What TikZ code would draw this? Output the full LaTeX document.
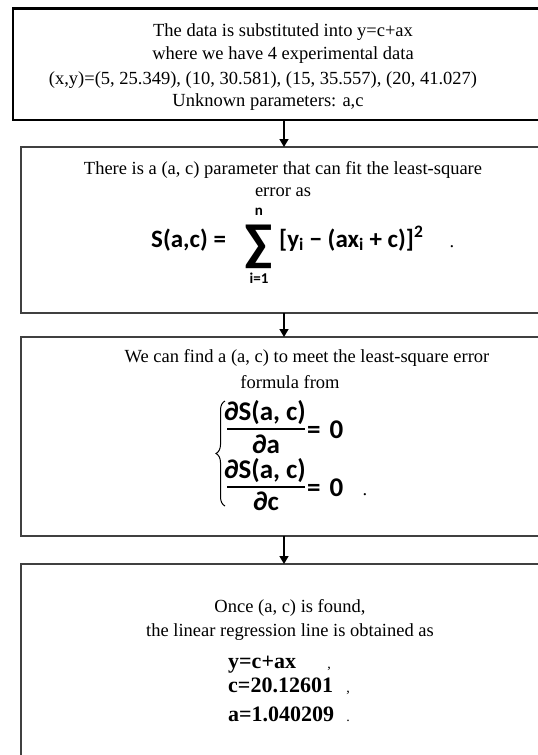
\documentclass[tikz,border=0pt]{standalone}
\usepackage{fontspec}
\setmainfont{Liberation Serif}
\newfontfamily\carl{Carlito}
\usetikzlibrary{fit,arrows.meta,decorations.pathreplacing}
\begin{document}
\begin{tikzpicture}[x=1pt,y=-1pt,
  box/.style={draw=black!75, line width=2pt, inner sep=0pt, outer sep=0pt},
  txt/.style={font=\fontsize{18.5}{23}\selectfont, inner sep=0pt, anchor=base},
  btxt/.style={font=\bfseries\fontsize{22}{26}\selectfont, inner sep=0pt, anchor=base west},
  fm/.style={font=\carl\bfseries\fontsize{25}{28}\selectfont, inner sep=0pt, anchor=base},
  fq/.style={font=\carl\bfseries\fontsize{27}{30}\selectfont, inner sep=0pt, anchor=base},
  fms/.style={font=\carl\bfseries\fontsize{15}{17}\selectfont, inner sep=0pt, anchor=base},
  arr/.style={draw=black, line width=1.5pt, -{Triangle[length=8pt,width=9pt]}},
]
\useasboundingbox (0,0) rectangle (538,755);
\clip (0,0) rectangle (538,755);
\fill[white] (0,0) rectangle (538,755);

% boxes
\node[box, draw=black, line width=2.5pt, fit={(13,8.5) (580,120)}] (b1) {};
\node[box, fit={(20.5,147) (580,313)}] (b2) {};
\node[box, fit={(20.5,337) (580,536)}] (b3) {};
\node[box, fit={(20.5,564) (580,790)}] (b4) {};

% arrows
\coordinate (ax) at (284,0);
\draw[arr] (b1.south -| ax) -- (b2.north -| ax);
\draw[arr] (b2.south -| ax) -- (b3.north -| ax);
\draw[arr] (b3.south -| ax) -- (b4.north -| ax);

% box 1 text
\node[txt] (t11) at (283,36) {The data is substituted into y=c+ax};
\node[txt] (t12) at (283,59) {where we have 4 experimental data};
\node[txt] (t13) at (263,84) {(x,y)=(5, 25.349), (10, 30.581), (15, 35.557), (20, 41.027)};
\node[txt] (t14) at (268,106) {Unknown parameters: a,c};

% box 2 text
\node[txt] (t21) at (283,174) {There is a (a, c) parameter that can fit the least-square};
\node[txt] (t22) at (283,196) {error as};
\node[fm, anchor=base west] (s1) at (151,247) {S(a,c) =};
\node[font=\carl\bfseries\fontsize{52}{52}\selectfont, inner sep=0pt, anchor=base] (sum) at (259,260) {∑};
\node[fms] (sn) at (259,215) {n};
\node[fms] (si) at (259,283) {i=1};
\node[fm, anchor=base west] (s2) at (279,247) {[y\textsubscript{i} − (ax\textsubscript{i} + c)]\textsuperscript{2}};
\node[txt] (sd) at (452,247) {.};

% box 3 text
\node[txt] (t31) at (307,362) {We can find a (a, c) to meet the least-square error};
\node[txt] (t32) at (290,388) {formula from};
\draw[line width=1pt, decorate, decoration={brace, amplitude=9pt}] (225,506) -- (225,401);
\node[fq] (n1) at (265,420) {∂S(a, c)};
\draw[line width=1.8pt] (227,429) -- (305,429);
\node[fq] (d1) at (266,453) {∂a};
\node[fq, anchor=base west] (e1) at (307,438) {=\hspace{9pt}0};
\node[fq] (n2) at (265,478) {∂S(a, c)};
\draw[line width=1.8pt] (227,487) -- (305,487);
\node[fq] (d2) at (266,510) {∂c};
\node[fq, anchor=base west] (e2) at (307,496) {=\hspace{9pt}0};
\node[txt] (ed) at (365,495) {.};

% box 4 text
\node[txt] (t41) at (290,612) {Once (a, c) is found,};
\node[txt] (t42) at (290,636) {the linear regression line is obtained as};
\node[btxt] (r1) at (228,668) {y=c+ax};
\node[txt, font=\fontsize{14}{16}\selectfont] (r1c) at (329,668) {,};
\node[btxt] (r2) at (228,692) {c=20.12601};
\node[txt, font=\fontsize{14}{16}\selectfont] (r2c) at (348,692) {,};
\node[btxt] (r3) at (228,721) {a=1.040209};
\node[txt, font=\fontsize{14}{16}\selectfont] (r3c) at (348,721) {.};
\end{tikzpicture}
\end{document}
